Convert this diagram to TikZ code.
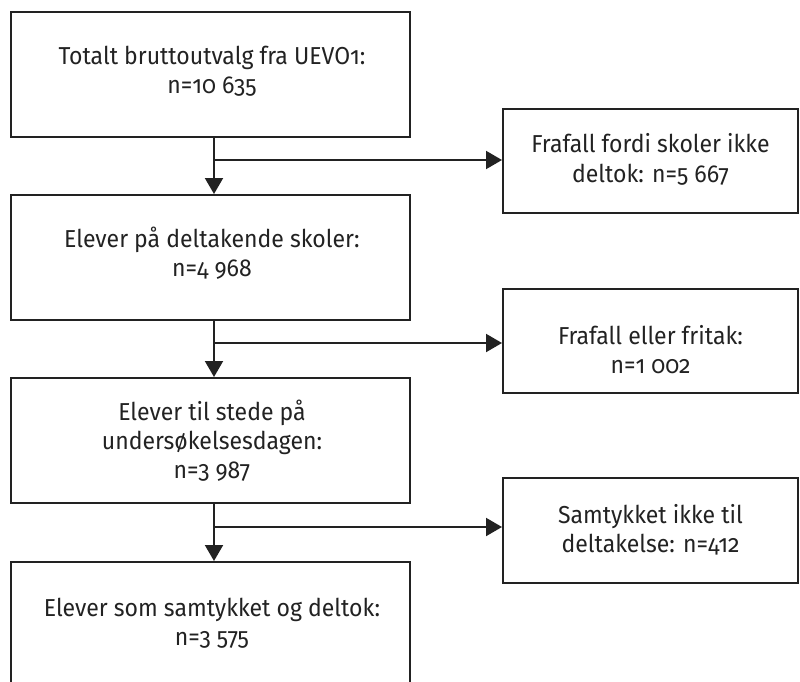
\documentclass[tikz,border=0pt]{standalone}
\usepackage{fontspec}
\setmainfont[Numbers=OldStyle,FakeStretch=0.94]{Fira Sans}
\usetikzlibrary{arrows.meta}
\definecolor{ink}{HTML}{222222}
\begin{document}
\begin{tikzpicture}[x=1pt,y=-1pt,
  box/.style={draw=ink,line width=2pt,inner sep=0pt},
  txt/.style={inner sep=0pt,align=center,text=ink,anchor=base,
    font=\fontsize{24.5}{29}\selectfont},
  conn/.style={draw=ink,line width=2pt,-{Triangle[width=18pt,length=16pt]}}]
\useasboundingbox (0,0) rectangle (800,682);
\begin{scope}
\clip (0,0) rectangle (800,682);
\node[box,minimum width=399pt,minimum height=125pt] (b1) at (210.5,74.5) {};
\node[box,minimum width=399pt,minimum height=125pt] (b2) at (210.5,257.5) {};
\node[box,minimum width=399pt,minimum height=125pt] (b3) at (210.5,440.5) {};
\node[box,minimum width=399pt,minimum height=140pt] (b4) at (210.5,632) {};
\node[box,minimum width=295pt,minimum height=104pt] (r1) at (650.5,161) {};
\node[box,minimum width=295pt,minimum height=104pt] (r2) at (650.5,341) {};
\node[box,minimum width=295pt,minimum height=105pt] (r3) at (650.5,530.5) {};
\end{scope}
\node[txt] (t1) at (212,94) {Totalt bruttoutvalg fra UEVO1:\\n=10 635};
\node[txt] (t2) at (212,276) {Elever på deltakende skoler:\\n=4 968};
\node[txt] (t3) at (212,478) {Elever til stede på\\undersøkelsesdagen:\\n=3 987};
\node[txt] (t4) at (212,645) {Elever som samtykket og deltok:\\n=3 575};
\node[txt] (s1) at (650.5,182) {Frafall fordi skoler ikke\\deltok: n=5 667};
\node[txt] (s2) at (650.5,373) {Frafall eller fritak:\\n=1 002};
\node[txt] (s3) at (650.5,552) {Samtykket ikke til\\deltakelse: n=412};
\coordinate (j1) at (214,160);
\coordinate (j2) at (214,343);
\coordinate (j3) at (214,527);
\draw[conn] (b1.south -| j1) -- (b2.north -| j1);
\draw[conn] (b2.south -| j2) -- (b3.north -| j2);
\draw[conn] (b3.south -| j3) -- (b4.north -| j3);
\draw[conn] (j1) -- (j1 -| r1.west);
\draw[conn] (j2) -- (j2 -| r2.west);
\draw[conn] (j3) -- (j3 -| r3.west);
\end{tikzpicture}
\end{document}
